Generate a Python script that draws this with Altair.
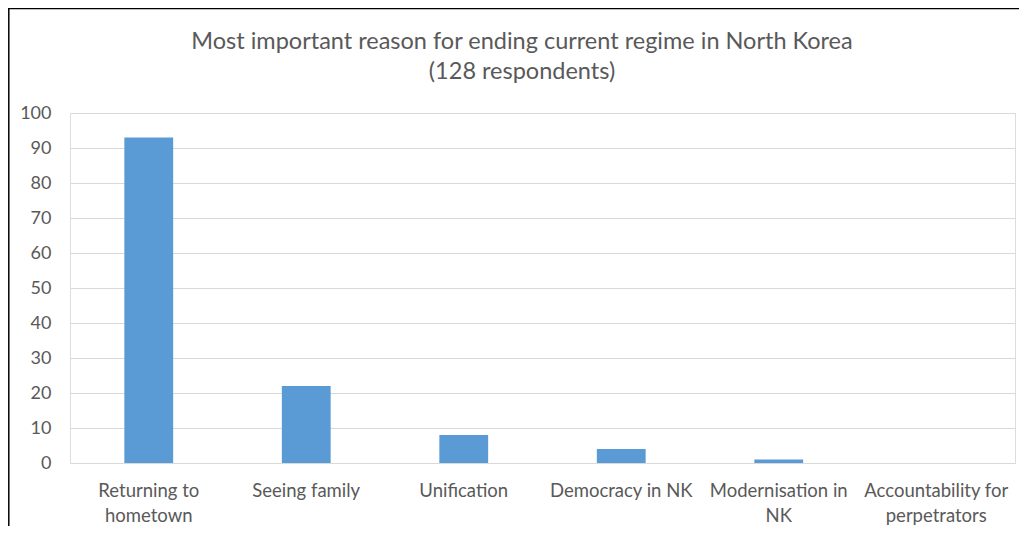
import altair as alt
import pandas as pd

categories = [
    "Returning to\nhometown",
    "Seeing family",
    "Unification",
    "Democracy in NK",
    "Modernisation in\nNK",
    "Accountability for\nperpetrators",
]
values = [93, 22, 8, 4, 1, 0]
y_ticks = [0, 10, 20, 30, 40, 50, 60, 70, 80, 90, 100]
title_lines = ["Most important reason for ending current regime in North Korea", "(128 respondents)"]

df = pd.DataFrame({"reason": categories, "count": values})

FONT = "Lato"
GREY = "#595959"
W, H = 945, 350

bars = alt.Chart(df).mark_bar(color="#5b9bd5").encode(
    x=alt.X(
        "reason:N",
        sort=categories,
        scale=alt.Scale(paddingInner=0.69, paddingOuter=0.345),
        axis=alt.Axis(
            title=None,
            labelAngle=0,
            domain=False,
            ticks=False,
            labelPadding=18,
            labelFontSize=18.5,
            labelColor=GREY,
            labelFont=FONT,
            labelLineHeight=25,
            labelLimit=200,
            labelExpr="split(datum.label, '\\n')",
        ),
    ),
    y=alt.Y(
        "count:Q",
        scale=alt.Scale(domain=[0, 100]),
        axis=alt.Axis(
            title=None,
            values=y_ticks,
            domain=False,
            ticks=False,
            labelPadding=19,
            labelFontSize=18,
            labelColor=GREY,
            labelFont=FONT,
            gridColor="#d9d9d9",
            gridWidth=1,
        ),
    ),
)

title_df = pd.DataFrame({"line": title_lines, "row": [0, 1]})
title = alt.Chart(title_df).mark_text(
    font=FONT, fontSize=23.5, color=GREY, align="center", baseline="middle"
).encode(
    text="line:N",
    x=alt.value(452),
    y=alt.Y("row:Q", axis=None, scale=alt.Scale(domain=[0, 1], range=[-71, -41])),
)

border_df = pd.DataFrame({"k": [0]})
left = alt.Chart(border_df).mark_rule(color="#000000", strokeWidth=1.5).encode(
    x=alt.value(-61.2), y=alt.value(-105), y2=alt.value(H + 70)
)
top = alt.Chart(border_df).mark_rule(color="#000000", strokeWidth=1.5).encode(
    x=alt.value(-62), x2=alt.value(W + 10), y=alt.value(-104.5)
)

chart = (
    alt.layer(bars, title, left, top)
    .resolve_scale(y="independent")
    .properties(
        width=W,
        height=H,
        autosize=alt.AutoSizeParams(type="none"),
        padding={"left": 62, "top": 105, "right": 4, "bottom": 63},
    )
    .configure_view(stroke=None)
    .configure(background="white")
)

chart.save("out.html", embed_options={"renderer": "svg", "actions": False})
